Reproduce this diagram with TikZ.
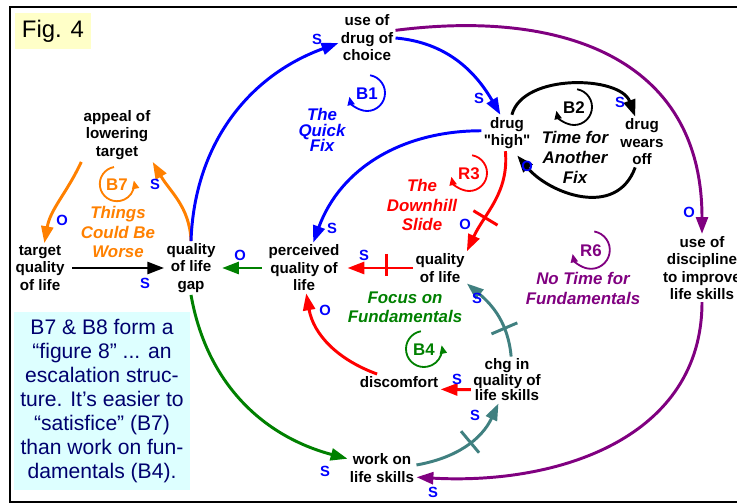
\documentclass[tikz,border=0pt]{standalone}
\usepackage{fontspec}
\setmainfont{Liberation Sans}[Ligatures=TeXOff]
\usetikzlibrary{arrows.meta, decorations.markings}
\definecolor{cldorange}{RGB}{255,128,0}
\definecolor{cldblue}{RGB}{0,0,255}
\definecolor{cldred}{RGB}{255,0,0}
\definecolor{cldgreen}{RGB}{0,128,0}
\definecolor{cldpurple}{RGB}{128,0,128}
\definecolor{cldteal}{RGB}{64,128,128}
\definecolor{notefill}{RGB}{221,255,255}
\definecolor{notetext}{RGB}{0,0,110}
\definecolor{figfill}{RGB}{255,255,200}
\tikzset{
  var/.style={align=center, inner sep=1.5pt, font=\fontsize{10.8}{12.4}\selectfont\bfseries},
  pol/.style={inner sep=0pt, text=cldblue, font=\fontsize{10.5}{11}\selectfont\bfseries},
  loopid/.style={inner sep=0pt, font=\fontsize{12}{12}\selectfont\bfseries},
  loopname/.style={align=center, inner sep=0pt, font=\fontsize{12}{14.2}\selectfont\bfseries\itshape},
  link/.style={-{Triangle[length=12pt, width=8.5pt]}, line width=2.1pt},
  loopsym/.style={-{Triangle[length=6pt, width=5pt]}, line width=1.3pt},
  delaymark/.style={postaction={decorate}, decoration={markings, mark=at position #1 with {\draw[-, line width=2.1pt] (0,-10pt) -- (0,10pt);}}},
  figbox/.style={fill=figfill, minimum width=1.9cm, minimum height=0.9cm, inner sep=0pt, font=\fontsize{17}{17}\selectfont},
  notebox/.style={fill=notefill, text=notetext, align=center, minimum width=4.42cm, minimum height=4.45cm, inner sep=0pt, font=\fontsize{15}{17}\selectfont}
}
\begin{document}
\begin{tikzpicture}[x=0.025cm, y=-0.025cm]
\useasboundingbox (0,0) rectangle (737,504);
\draw[line width=2.1pt] (10,7) rectangle (790,502);

\node[figbox] (fig) at (53,31) {Fig. 4};
\node[notebox] (note) at (102,401) {B7 \& B8 form a\\“figure 8” ... an\\escalation struc-\\ture. It’s easier to\\“satisfice” (B7)\\than work on fun-\\damentals (B4).};

\node[var] (appeal) at (117,135) {appeal of\\lowering\\target};
\node[var] (target) at (40,268) {target\\quality\\of life};
\node[var] (gap) at (191,268) {quality\\of life\\gap};
\node[var] (choice) at (367,38) {use of\\drug of\\choice};
\node[var] (high) at (507,133) {drug\\"high"};
\node[var] (wearsoff) at (642,142) {drug\\wears\\off};
\node[var] (perceived) at (304,268) {perceived\\quality of\\life};
\node[var] (qol) at (440,268) {quality\\of life};
\node[var] (discipline) at (702,268) {use of\\discipline\\to improve\\life skills};
\node[var, font=\fontsize{10.8}{11}\selectfont\bfseries] (chg) at (507,380) {chg in\\quality of\\life skills};
\node[var] (discomfort) at (399,382) {discomfort};
\node[var] (work) at (382,468) {work on\\life skills};

\draw[loopsym, cldorange] (117,184) ++(100:0.43cm) arc[start angle=100, end angle=372, radius=0.43cm];
\draw[loopsym, cldblue] (367,93) ++(80:0.45cm) arc[start angle=80, end angle=-168, radius=0.45cm];
\draw[loopsym] (574,107) ++(80:0.45cm) arc[start angle=80, end angle=-168, radius=0.45cm];
\draw[loopsym, cldred] (469,173) ++(80:0.45cm) arc[start angle=80, end angle=-168, radius=0.45cm];
\draw[loopsym, cldgreen] (424,349) ++(100:0.45cm) arc[start angle=100, end angle=372, radius=0.45cm];
\draw[loopsym, cldpurple] (591,250) ++(80:0.47cm) arc[start angle=80, end angle=-168, radius=0.47cm];
\node[loopid, cldorange] (b7) at (117,185) {B7};
\node[loopid, cldblue] (b1) at (367,94) {B1};
\node[loopid] (b2) at (574,108) {B2};
\node[loopid, cldred] (r3) at (469,174) {R3};
\node[loopid, cldgreen] (b4) at (424,350) {B4};
\node[loopid, cldpurple] (r6) at (591,251) {R6};

\node[loopname, cldorange] (things) at (118,232) {Things\\Could Be\\Worse};
\node[loopname, cldblue, font=\fontsize{12}{11.2}\selectfont\bfseries\itshape] (quickfix) at (322,130) {The\\Quick\\Fix};
\node[loopname] (timefor) at (575,157) {Time for\\Another\\Fix};
\node[loopname, cldred] (downhill) at (422,205) {The\\Downhill\\Slide};
\node[loopname, cldgreen, font=\fontsize{12}{13.5}\selectfont\bfseries\itshape] (focus) at (405,307) {Focus on\\Fundamentals};
\node[loopname, cldpurple] (notime) at (583,288) {No Time for\\Fundamentals};

\draw[link, shorten <=4pt] (target) -- (gap);
\draw[link, cldorange] (gap.north) to[out=92, in=-60] (appeal.south east);
\draw[link, cldorange] (appeal.south west) to[out=-115, in=80] (target.80);
\draw[link, cldblue] (gap.north) to[out=88, in=200] (choice.190);
\draw[link, cldblue] (choice.east) to[out=-5, in=120] (high.110);
\draw[link, cldblue] (high.175) to[out=180, in=70] (perceived.70);
\draw[link] (high.75) to[out=75, in=110, looseness=0.9] (wearsoff.105);
\draw[link, shorten >=4pt] (wearsoff.-105) to[out=-110, in=-50, looseness=1.15] (high.-70);
\draw[link, cldred, delaymark=0.65] (high.-95) to[out=-85, in=65] (qol.north east);
\draw[link, cldred, delaymark=0.38, shorten >=4pt] (qol) -- (perceived);
\draw[link, cldgreen, shorten <=3pt, shorten >=3pt] (perceived) -- (gap);
\draw[link, cldgreen] (gap.south) to[out=-80, in=165] (work.165);
\draw[link, cldteal, delaymark=0.55] (work.5) to[out=10, in=-115] (chg.-110);
\draw[link, cldteal, delaymark=0.33] (chg.80) to[out=95, in=-40] (qol.-30);
\draw[link, cldred] (chg.195) -- (discomfort.-10);
\draw[link, cldred] (discomfort.160) to[out=160, in=-80] (perceived.-85);
\draw[link, cldpurple] (choice.15) .. controls +(163,-21) and +(0,-178) .. (discipline.north);
\draw[link, cldpurple] (discipline.south) .. controls +(0,135) and +(143,8) .. (work.-15);

\node[pol] (p1) at (145,283) {S};
\node[pol] (p2) at (155,184) {S};
\node[pol] (p3) at (62,220) {O};
\node[pol] (p4) at (317,39) {S};
\node[pol] (p5) at (479,98) {S};
\node[pol] (p6) at (332,228) {S};
\node[pol] (p7) at (620,102) {S};
\node[pol] (p8) at (527,166) {O};
\node[pol] (p9) at (465,224) {O};
\node[pol] (p10) at (364,255) {S};
\node[pol] (p11) at (240,255) {O};
\node[pol] (p12) at (325,471) {S};
\node[pol] (p13) at (475,415) {S};
\node[pol] (p14) at (477,298) {S};
\node[pol] (p15) at (457,379) {S};
\node[pol] (p16) at (325,310) {O};
\node[pol] (p17) at (689,212) {O};
\node[pol] (p18) at (433,492) {S};
\end{tikzpicture}
\end{document}
